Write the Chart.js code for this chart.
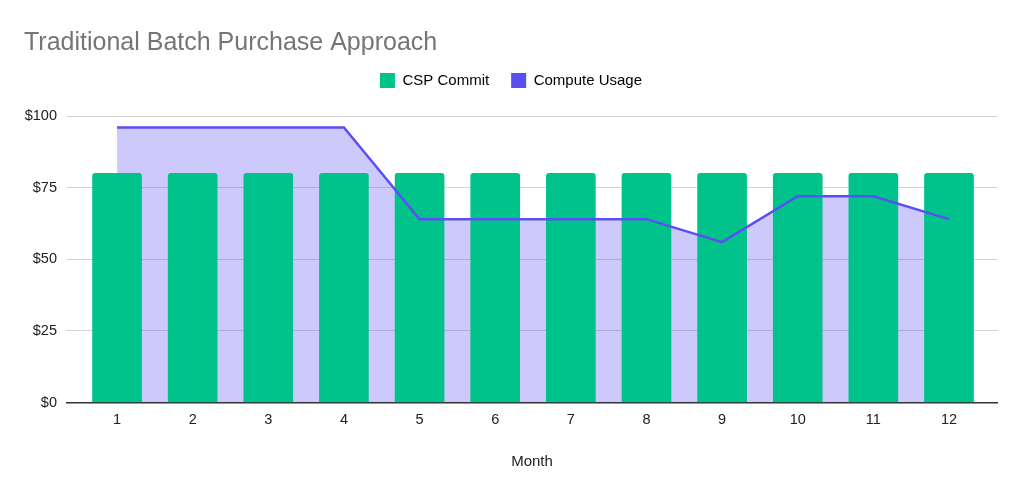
<!DOCTYPE html>
<html>
<head>
<meta charset="utf-8">
<script src="https://cdn.jsdelivr.net/npm/chart.js@4"></script>
<style>
  html, body { margin: 0; padding: 0; background: #fff; }
  #wrap { width: 1024px; height: 495px; }
</style>
</head>
<body>
<div id="wrap"><canvas id="chart" width="1024" height="495"></canvas></div>
<script>
// Chart values
const months = [1, 2, 3, 4, 5, 6, 7, 8, 9, 10, 11, 12];
const cspCommit = [80, 80, 80, 80, 80, 80, 80, 80, 80, 80, 80, 80];
const computeUsage = [96, 96, 96, 96, 64, 64, 64, 64, 56, 72, 72, 64];
const yTicks = [0, 25, 50, 75, 100];

const green = "#00c28b";
const blue = "#5a4ff3";

Chart.defaults.font.family = "'Liberation Sans', Arial, sans-serif";
Chart.defaults.color = "#222";

// push the plot a bit further below the legend
const legendGap = {
    id: "legendGap",
    beforeInit(chart) {
        const fit = chart.legend.fit;
        chart.legend.fit = function () {
            fit.call(this);
            this.height += 18;
        };
    },
};

new Chart(document.getElementById("chart"), {
    type: "bar",
    data: {
        datasets: [
            {
                type: "line",
                label: "Compute Usage",
                data: months.map((m, i) => ({ x: m, y: computeUsage[i] })),
                borderColor: blue,
                backgroundColor: "rgba(90, 79, 243, 0.3)",
                borderWidth: 2.5,
                pointRadius: 0,
                tension: 0,
                fill: "origin",
                order: 0,
            },
            {
                label: "CSP Commit",
                data: months.map((m, i) => ({ x: m, y: cspCommit[i] })),
                backgroundColor: green,
                borderRadius: 3,
                borderSkipped: "bottom",
                barThickness: 49,
                order: 1,
            },
        ],
    },
    options: {
        responsive: false,
        animation: false,
        devicePixelRatio: 1,
        layout: { padding: { left: 24, right: 26, top: 8, bottom: 20 } },
        plugins: {
            filler: { drawTime: "beforeDatasetsDraw" },
            title: {
                display: true,
                text: "Traditional Batch Purchase Approach",
                align: "start",
                color: "#757575",
                font: { size: 25, weight: "normal" },
                padding: { top: 20, bottom: -7 },
            },
            legend: {
                reverse: true,
                labels: {
                    boxWidth: 15,
                    boxHeight: 15,
                    padding: 22,
                    font: { size: 15 },
                    color: "#222",
                    generateLabels: (chart) => chart.data.datasets.map((ds, i) => ({
                        text: ds.label,
                        fillStyle: ds.type === "line" ? blue : green,
                        strokeStyle: ds.type === "line" ? blue : green,
                        lineWidth: 0,
                        datasetIndex: i,
                        hidden: false,
                    })),
                },
            },
            tooltip: { enabled: false },
        },
        scales: {
            x: {
                type: "linear",
                offset: false,
                min: 0.325,
                max: 12.648,
                afterBuildTicks: (s) => { s.ticks = months.map((v) => ({ value: v })); },
                grid: { display: false },
                border: { display: false },
                ticks: { font: { size: 14.5 }, color: "#222", padding: 1 },
                title: {
                    display: true,
                    text: "Month",
                    font: { size: 15 },
                    color: "#222",
                    padding: { top: 23 },
                },
            },
            y: {
                min: 0,
                max: 100,
                afterBuildTicks: (s) => { s.ticks = yTicks.map((v) => ({ value: v })); },
                afterFit: (s) => { s.width = 42; },
                border: { display: false },
                grid: {
                    drawTicks: false,
                    color: (ctx) => (ctx.tick && ctx.tick.value === 0 ? "#333" : "#d4d4d4"),
                    lineWidth: (ctx) => (ctx.tick && ctx.tick.value === 0 ? 1.5 : 1),
                },
                ticks: {
                    font: { size: 14.5 },
                    color: "#222",
                    padding: 9,
                    callback: (v) => "$" + v,
                },
            },
        },
    },
    plugins: [legendGap],
});
</script>
</body>
</html>
